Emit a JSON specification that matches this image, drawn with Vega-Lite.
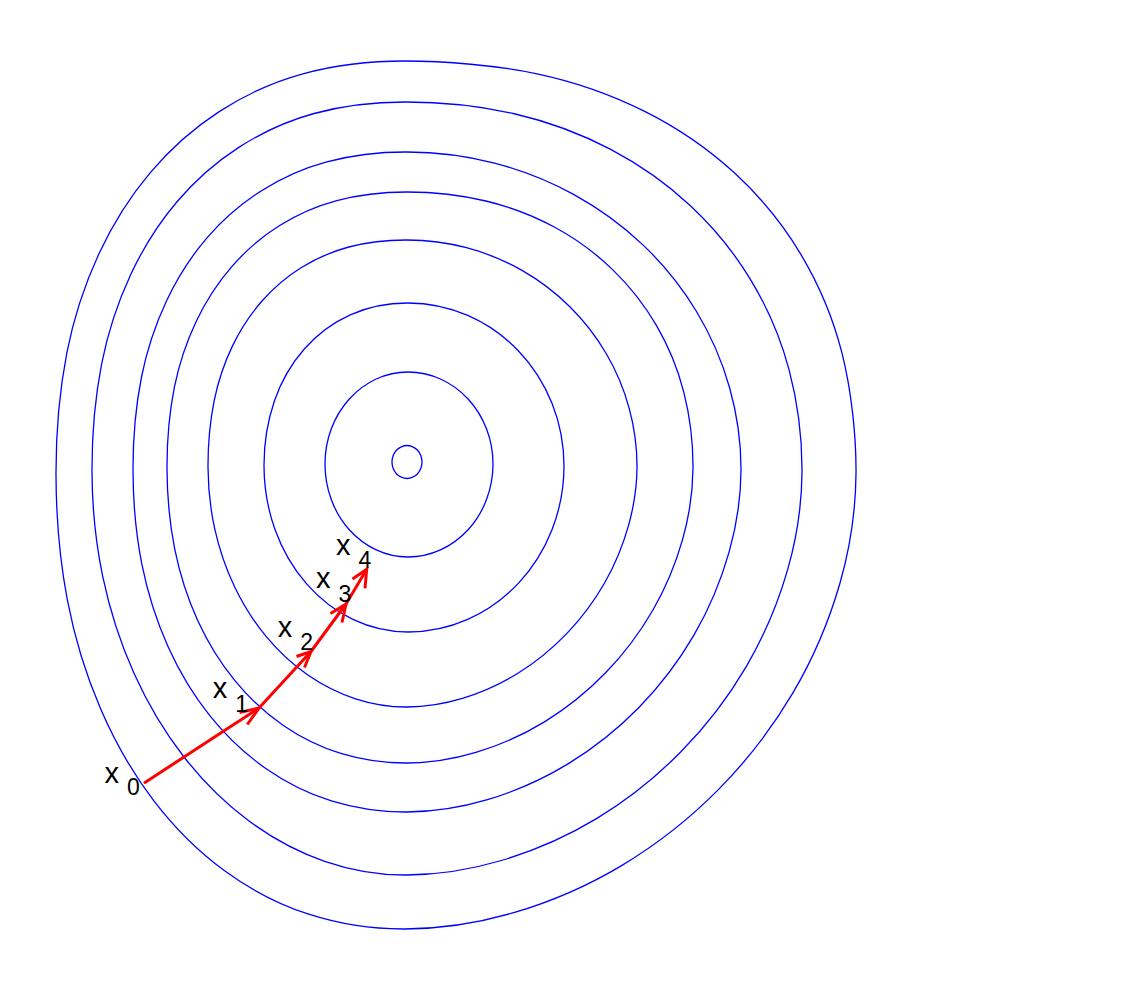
{
  "$schema": "https://vega.github.io/schema/vega-lite/v6.json",
  "width": 1136,
  "height": 983,
  "padding": 0,
  "autosize": {"type": "fit", "contains": "padding"},
  "background": "white",
  "config": {"view": {"stroke": null}},
  "datasets": {
    "contours": [
      {"c":1,"i":0,"x":422,"y":462},{"c":1,"i":1,"x":420.9,"y":468.3},{"c":1,"i":2,"x":417.6,"y":473.7},{"c":1,"i":3,"x":412.7,"y":477.2},{"c":1,"i":4,"x":407,"y":478.5},{"c":1,"i":5,"x":401.3,"y":477.2},{"c":1,"i":6,"x":396.4,"y":473.7},{"c":1,"i":7,"x":393.1,"y":468.3},{"c":1,"i":8,"x":392,"y":462},{"c":1,"i":9,"x":393.1,"y":455.7},{"c":1,"i":10,"x":396.4,"y":450.3},{"c":1,"i":11,"x":401.3,"y":446.8},{"c":1,"i":12,"x":407,"y":445.5},{"c":1,"i":13,"x":412.7,"y":446.8},{"c":1,"i":14,"x":417.6,"y":450.3},{"c":1,"i":15,"x":420.9,"y":455.7},
      {"c":2,"i":0,"x":493,"y":464},{"c":2,"i":1,"x":486.5,"y":499.6},{"c":2,"i":2,"x":468.1,"y":529.8},{"c":2,"i":3,"x":440.5,"y":549.9},{"c":2,"i":4,"x":408,"y":557},{"c":2,"i":5,"x":376.2,"y":549.9},{"c":2,"i":6,"x":349.3,"y":529.8},{"c":2,"i":7,"x":331.3,"y":499.6},{"c":2,"i":8,"x":325,"y":464},{"c":2,"i":9,"x":331.3,"y":428.8},{"c":2,"i":10,"x":349.3,"y":399},{"c":2,"i":11,"x":376.2,"y":379},{"c":2,"i":12,"x":408,"y":372},{"c":2,"i":13,"x":440.5,"y":379},{"c":2,"i":14,"x":468.1,"y":399},{"c":2,"i":15,"x":486.5,"y":428.8},
      {"c":3,"i":0,"x":564,"y":466},{"c":3,"i":1,"x":552.1,"y":529.5},{"c":3,"i":2,"x":518.3,"y":583.4},{"c":3,"i":3,"x":467.7,"y":619.4},{"c":3,"i":4,"x":408,"y":632},{"c":3,"i":5,"x":352.9,"y":619.4},{"c":3,"i":6,"x":306.2,"y":583.4},{"c":3,"i":7,"x":275,"y":529.5},{"c":3,"i":8,"x":264,"y":466},{"c":3,"i":9,"x":274.5,"y":400.7},{"c":3,"i":10,"x":304.5,"y":348.8},{"c":3,"i":11,"x":350.3,"y":314.8},{"c":3,"i":12,"x":408,"y":303},{"c":3,"i":13,"x":467.7,"y":315.4},{"c":3,"i":14,"x":518.3,"y":350.7},{"c":3,"i":15,"x":552.1,"y":403.6},
      {"c":4,"i":0,"x":637,"y":467},{"c":4,"i":1,"x":628.7,"y":524.8},{"c":4,"i":2,"x":604.7,"y":582.7},{"c":4,"i":3,"x":566.7,"y":633.6},{"c":4,"i":4,"x":517.9,"y":673.3},{"c":4,"i":5,"x":462.4,"y":698.4},{"c":4,"i":6,"x":407,"y":707},{"c":4,"i":7,"x":355.5,"y":698.8},{"c":4,"i":8,"x":307.5,"y":674.8},{"c":4,"i":9,"x":266.3,"y":636.7},{"c":4,"i":10,"x":234.7,"y":587},{"c":4,"i":11,"x":214.8,"y":529.1},{"c":4,"i":12,"x":208,"y":467},{"c":4,"i":13,"x":214.2,"y":400.6},{"c":4,"i":14,"x":232.4,"y":346.1},{"c":4,"i":15,"x":261.8,"y":301.3},{"c":4,"i":16,"x":301,"y":267.8},{"c":4,"i":17,"x":348.8,"y":247},{"c":4,"i":18,"x":407,"y":240},{"c":4,"i":19,"x":466.5,"y":247.7},{"c":4,"i":20,"x":522,"y":270.4},{"c":4,"i":21,"x":569.6,"y":306.5},{"c":4,"i":22,"x":606.2,"y":353.5},{"c":4,"i":23,"x":629.2,"y":408.3},
      {"c":5,"i":0,"x":693,"y":468},{"c":5,"i":1,"x":682.7,"y":539.1},{"c":5,"i":2,"x":652.8,"y":610.2},{"c":5,"i":3,"x":605.6,"y":672.8},{"c":5,"i":4,"x":544.9,"y":721.6},{"c":5,"i":5,"x":475.9,"y":752.4},{"c":5,"i":6,"x":407,"y":763},{"c":5,"i":7,"x":340.8,"y":753.4},{"c":5,"i":8,"x":283,"y":725.2},{"c":5,"i":9,"x":234.5,"y":680.1},{"c":5,"i":10,"x":197.7,"y":620.5},{"c":5,"i":11,"x":174.8,"y":549.4},{"c":5,"i":12,"x":167,"y":468},{"c":5,"i":13,"x":174.4,"y":387.2},{"c":5,"i":14,"x":196.4,"y":321},{"c":5,"i":15,"x":231.8,"y":266.6},{"c":5,"i":16,"x":279.2,"y":225.8},{"c":5,"i":17,"x":336.8,"y":200.6},{"c":5,"i":18,"x":407,"y":192},{"c":5,"i":19,"x":485.9,"y":201},{"c":5,"i":20,"x":554.8,"y":227.3},{"c":5,"i":21,"x":612.6,"y":269.6},{"c":5,"i":22,"x":656.4,"y":325.4},{"c":5,"i":23,"x":683.7,"y":391.8},
      {"c":6,"i":0,"x":741,"y":470},{"c":6,"i":1,"x":729,"y":552.4},{"c":6,"i":2,"x":694.1,"y":634.9},{"c":6,"i":3,"x":638.9,"y":707.5},{"c":6,"i":4,"x":568,"y":763.9},{"c":6,"i":5,"x":487.5,"y":799.7},{"c":6,"i":6,"x":407,"y":812},{"c":6,"i":7,"x":331.4,"y":800.9},{"c":6,"i":8,"x":265.4,"y":768.2},{"c":6,"i":9,"x":210,"y":715.9},{"c":6,"i":10,"x":168.1,"y":646.7},{"c":6,"i":11,"x":141.9,"y":564.4},{"c":6,"i":12,"x":133,"y":470},{"c":6,"i":13,"x":141.5,"y":377},{"c":6,"i":14,"x":166.6,"y":300.7},{"c":6,"i":15,"x":207,"y":237.9},{"c":6,"i":16,"x":261.1,"y":191},{"c":6,"i":17,"x":326.8,"y":161.9},{"c":6,"i":18,"x":407,"y":152},{"c":6,"i":19,"x":493.4,"y":162.8},{"c":6,"i":20,"x":574,"y":194.6},{"c":6,"i":21,"x":643.2,"y":245.1},{"c":6,"i":22,"x":696.2,"y":311},{"c":6,"i":23,"x":729.6,"y":387.7},
      {"c":7,"i":0,"x":802,"y":472},{"c":7,"i":1,"x":787.8,"y":569.1},{"c":7,"i":2,"x":746.4,"y":666.3},{"c":7,"i":3,"x":680.9,"y":751.8},{"c":7,"i":4,"x":596.9,"y":818.4},{"c":7,"i":5,"x":501.4,"y":860.5},{"c":7,"i":6,"x":406,"y":875},{"c":7,"i":7,"x":324.7,"y":861.3},{"c":7,"i":8,"x":249,"y":821},{"c":7,"i":9,"x":184,"y":757},{"c":7,"i":10,"x":134.1,"y":673.5},{"c":7,"i":11,"x":102.7,"y":576.3},{"c":7,"i":12,"x":92,"y":472},{"c":7,"i":13,"x":101.7,"y":363.7},{"c":7,"i":14,"x":130.5,"y":275},{"c":7,"i":15,"x":176.8,"y":202},{"c":7,"i":16,"x":238.8,"y":147.4},{"c":7,"i":17,"x":314.1,"y":113.5},{"c":7,"i":18,"x":406,"y":102},{"c":7,"i":19,"x":515.3,"y":114},{"c":7,"i":20,"x":610.7,"y":149.4},{"c":7,"i":21,"x":690.7,"y":206},{"c":7,"i":22,"x":751.3,"y":280.8},{"c":7,"i":23,"x":789.1,"y":369.9},
      {"c":8,"i":0,"x":856,"y":474},{"c":8,"i":1,"x":839.8,"y":583.7},{"c":8,"i":2,"x":792.6,"y":693.4},{"c":8,"i":3,"x":718.1,"y":789.9},{"c":8,"i":4,"x":622.4,"y":865.1},{"c":8,"i":5,"x":513.7,"y":912.7},{"c":8,"i":6,"x":405,"y":929},{"c":8,"i":7,"x":308.7,"y":914.2},{"c":8,"i":8,"x":224.6,"y":870.8},{"c":8,"i":9,"x":154.1,"y":801.1},{"c":8,"i":10,"x":100.7,"y":709.1},{"c":8,"i":11,"x":67.3,"y":599.6},{"c":8,"i":12,"x":56,"y":474},{"c":8,"i":13,"x":66.8,"y":353.2},{"c":8,"i":14,"x":98.8,"y":254.1},{"c":8,"i":15,"x":150.3,"y":172.6},{"c":8,"i":16,"x":219.2,"y":111.6},{"c":8,"i":17,"x":302.9,"y":73.8},{"c":8,"i":18,"x":405,"y":61},{"c":8,"i":19,"x":537,"y":73.8},{"c":8,"i":20,"x":645.2,"y":111.6},{"c":8,"i":21,"x":734.1,"y":172.6},{"c":8,"i":22,"x":800.7,"y":254.1},{"c":8,"i":23,"x":842,"y":353.2}
    ],
    "path": [
      {"i":0,"x":145,"y":782.5},{"i":1,"x":223,"y":731.5},{"i":2,"x":259,"y":708},{"i":3,"x":311,"y":651.5},{"i":4,"x":346,"y":604},{"i":5,"x":366.7,"y":569.3}
    ],
    "heads": [
      {"a":1,"i":0,"x":239.5,"y":712.5},{"a":1,"i":1,"x":259,"y":708},{"a":1,"i":2,"x":247.3,"y":724.5},
      {"a":2,"i":0,"x":296.5,"y":656.5},{"a":2,"i":1,"x":311,"y":651.5},{"a":2,"i":2,"x":304.5,"y":667.5},
      {"a":3,"i":0,"x":330.5,"y":613.5},{"a":3,"i":1,"x":346,"y":604},{"a":3,"i":2,"x":342,"y":622.5},
      {"a":4,"i":0,"x":352.5,"y":579},{"a":4,"i":1,"x":366.7,"y":569.3},{"a":4,"i":2,"x":365,"y":588.3}
    ],
    "labels": [
      {"step":"0","lx":111.7,"ly":783,"sx":133.3,"sy":795},
      {"step":"1","lx":220,"ly":698,"sx":241.7,"sy":711.7},
      {"step":"2","lx":285,"ly":636.7,"sx":306.7,"sy":650},
      {"step":"3","lx":323.3,"ly":588.3,"sx":345,"sy":601.7},
      {"step":"4","lx":343.3,"ly":555,"sx":365,"sy":568.3}
    ]
  },
  "layer": [
    {
      "data": {"name": "contours"},
      "mark": {"type": "line", "interpolate": "cardinal-closed", "stroke": "#0000ff", "strokeWidth": 1.3},
      "encoding": {
        "x": {"field": "x", "type": "quantitative", "scale": {"domain": [0, 1136], "nice": false, "zero": false}, "axis": null},
        "y": {"field": "y", "type": "quantitative", "scale": {"domain": [0, 983], "reverse": true, "nice": false, "zero": false}, "axis": null},
        "detail": {"field": "c", "type": "nominal"},
        "order": {"field": "i", "type": "quantitative"}
      }
    },
    {
      "data": {"name": "path"},
      "mark": {"type": "line", "stroke": "#ff0000", "strokeWidth": 3, "strokeJoin": "round", "strokeCap": "round"},
      "encoding": {
        "x": {"field": "x", "type": "quantitative"},
        "y": {"field": "y", "type": "quantitative"},
        "order": {"field": "i", "type": "quantitative"}
      }
    },
    {
      "data": {"name": "heads"},
      "mark": {"type": "line", "stroke": "#ff0000", "strokeWidth": 3, "strokeJoin": "miter", "strokeCap": "butt"},
      "encoding": {
        "x": {"field": "x", "type": "quantitative"},
        "y": {"field": "y", "type": "quantitative"},
        "detail": {"field": "a", "type": "nominal"},
        "order": {"field": "i", "type": "quantitative"}
      }
    },
    {
      "data": {"name": "labels"},
      "mark": {"type": "text", "text": "x", "font": "Liberation Sans", "fontSize": 29, "align": "center", "baseline": "alphabetic", "color": "black"},
      "encoding": {
        "x": {"field": "lx", "type": "quantitative"},
        "y": {"field": "ly", "type": "quantitative"}
      }
    },
    {
      "data": {"name": "labels"},
      "mark": {"type": "text", "font": "Liberation Sans", "fontSize": 23, "align": "center", "baseline": "alphabetic", "color": "black"},
      "encoding": {
        "x": {"field": "sx", "type": "quantitative"},
        "y": {"field": "sy", "type": "quantitative"},
        "text": {"field": "step", "type": "nominal"}
      }
    }
  ]
}
